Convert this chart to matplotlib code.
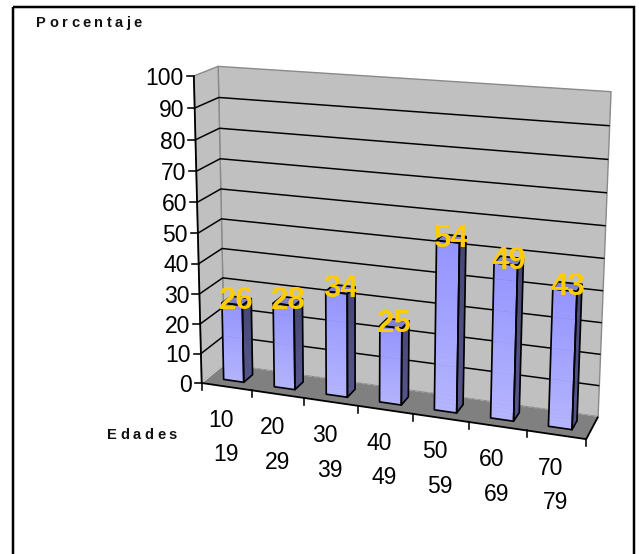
import numpy as np
import matplotlib
matplotlib.use("Agg")
import matplotlib.pyplot as plt
from matplotlib.patches import Polygon, Rectangle

# ---- data -------------------------------------------------------------
age_from = ["10", "20", "30", "40", "50", "60", "70"]
age_to = ["19", "29", "39", "49", "59", "69", "79"]
porcentaje = [26, 28, 34, 25, 54, 49, 43]
value_ticks = [0, 10, 20, 30, 40, 50, 60, 70, 80, 90, 100]
y_title = "Porcentaje"
x_title = "Edades"

# ---- canvas (pixel coordinates, y downward) ----------------------------
W, H = 639, 554
fig = plt.figure(figsize=(W / 100, H / 100), dpi=100)
ax = fig.add_axes([0, 0, 1, 1])
ax.set_xlim(0, W)
ax.set_ylim(H, 0)
ax.axis("off")

PX = 0.72  # points per pixel at 100 dpi
FONT = "Liberation Sans"

# ---- perspective camera fitted to the plot box ---------------------------
# scene coords: (category position 0..7, value 0..100, depth 0=front..1=back)
box_points = np.array([
    (0, 0, 0), (0, 100, 0), (0, 0, 1), (0, 100, 1),
    (7, 0, 0), (7, 0, 1), (7, 100, 1),
    (1, 0, 0), (2, 0, 0), (3, 0, 0), (4, 0, 0), (5, 0, 0), (6, 0, 0),
], dtype=float)
box_pixels = np.array([
    (203, 383), (193, 75), (223, 364), (219, 67),
    (586, 439), (599, 416), (611, 92),
    (253, 391), (305, 398), (357, 405.5), (412, 414), (468, 422), (527, 431),
], dtype=float)


def fit_camera(p3, p2):
    rows = []
    for (X, V, Z), (u, v) in zip(p3, p2):
        Y = V / 10.0
        u, v = u / 100.0, v / 100.0
        rows.append([X, Y, Z, 1, 0, 0, 0, 0, -u * X, -u * Y, -u * Z, -u])
        rows.append([0, 0, 0, 0, X, Y, Z, 1, -v * X, -v * Y, -v * Z, -v])
    _, _, vt = np.linalg.svd(np.array(rows))
    return vt[-1].reshape(3, 4)


CAM = fit_camera(box_points, box_pixels)
_, _, _vt = np.linalg.svd(CAM)
EYE = _vt[-1][:3] / _vt[-1][3]  # camera centre in (X, V/10, Z)


def proj(X, V, Z):
    p = CAM @ np.array([X, V / 10.0, Z, 1.0])
    return p[0] / p[2] * 100.0, p[1] / p[2] * 100.0


def poly(pts):
    return [proj(*p) for p in pts]


def fill(pts, color, ec="none", lw=0.0, z=1):
    ax.add_patch(Polygon(poly(pts), closed=True, facecolor=color,
                         edgecolor=ec, linewidth=lw, zorder=z,
                         joinstyle="round"))


def line3(pts, color, lw, z=2, **kw):
    xy = np.array(poly(pts))
    ax.plot(xy[:, 0], xy[:, 1], color=color, linewidth=lw, zorder=z,
            solid_capstyle="butt", **kw)


NCAT = len(porcentaje)
VMAX = value_ticks[-1]

# ---- walls and floor ---------------------------------------------------
wall_grey = "#C0C0C0"
edge_grey = "#8A8A8A"
fill([(0, 0, 1), (NCAT, 0, 1), (NCAT, VMAX, 1), (0, VMAX, 1)], wall_grey,
     ec=edge_grey, lw=1.4 * PX, z=1)
fill([(0, 0, 0), (0, 0, 1), (0, VMAX, 1), (0, VMAX, 0)], wall_grey,
     ec=edge_grey, lw=1.4 * PX, z=1)
fill([(0, 0, 0), (NCAT, 0, 0), (NCAT, 0, 1), (0, 0, 1)], "#808080", z=1.5)
line3([(0, 0, 0), (0, 0, 1)], "#D8D8D8", 1.0 * PX, z=1.6)
line3([(0, 0, 1), (NCAT, 0, 1)], "#A6A6A6", 1.0 * PX, z=1.6,
      linestyle=(0, (4, 2)))

# gridlines on the left and back walls
for v in value_ticks[1:-1]:
    line3([(0, v, 0), (0, v, 1), (NCAT, v, 1)], "black", 1.5 * PX, z=2)

# value axis with ticks and labels
line3([(0, 0, 0), (0, VMAX, 0)], "black", 1.8 * PX, z=3)
for v in value_ticks:
    u, w = proj(0, v, 0)
    ax.plot([u - 7, u], [w, w], color="black", linewidth=1.6 * PX, zorder=3)
    ax.text(u - 10, w + 8.7, str(v), ha="right", va="baseline",
            fontsize=16.5, family=FONT, color="black", zorder=3)

# category axis along the front edge of the floor
line3([(0, 0, 0), (NCAT, 0, 0), (NCAT, 0, 1)], "black", 1.8 * PX, z=3)
for k in range(NCAT + 1):
    u, w = proj(k, 0, 0)
    ax.plot([u, u], [w, w + 7], color="black", linewidth=1.6 * PX, zorder=3)
for i in range(NCAT):
    u, w = proj(i + 0.5, 0, 0)
    ax.text(u - 5.5, w + 32 + 8.2, age_from[i], ha="center", va="baseline",
            fontsize=16.5, family=FONT, color="black", zorder=3)
    ax.text(u - 1.0, w + 66.5 + 8.2, age_to[i], ha="center", va="baseline",
            fontsize=16.5, family=FONT, color="black", zorder=3)

# ---- 3-D columns -------------------------------------------------------
front_top = np.array([0.58, 0.58, 1.00])
front_bottom = np.array([0.71, 0.71, 1.00])
side_top = np.array([0.27, 0.27, 0.45])
side_bottom = np.array([0.33, 0.33, 0.55])
top_col = "#8080D0"
NSTRIP = 40

for i, val in enumerate(porcentaje):
    x0, x1, z0, z1 = i + 0.3, i + 0.7, 0.3, 0.7
    faces = {
        "front": ([(x0, 0, z0), (x1, 0, z0), (x1, val, z0), (x0, val, z0)],
                  (0, 0, -1), (x0, 0, z0)),
        "back": ([(x0, 0, z1), (x1, 0, z1), (x1, val, z1), (x0, val, z1)],
                 (0, 0, 1), (x0, 0, z1)),
        "left": ([(x0, 0, z0), (x0, 0, z1), (x0, val, z1), (x0, val, z0)],
                 (-1, 0, 0), (x0, 0, z0)),
        "right": ([(x1, 0, z0), (x1, 0, z1), (x1, val, z1), (x1, val, z0)],
                  (1, 0, 0), (x1, 0, z0)),
        "top": ([(x0, val, z0), (x1, val, z0), (x1, val, z1), (x0, val, z1)],
                (0, 1, 0), (x0, val, z0)),
    }
    zb = 5 + i * 0.01
    for name, (pts, normal, anchor) in faces.items():
        a = np.array([anchor[0], anchor[1] / 10.0, anchor[2]])
        if np.dot(EYE - a, normal) <= 0:
            continue
        if name in ("front", "back", "left", "right"):
            c_top = front_top if name in ("front", "back") else side_top
            c_bot = front_bottom if name in ("front", "back") else side_bottom
            (pa, pb) = (pts[0], pts[1])
            for s in range(NSTRIP):
                v0 = val * s / NSTRIP
                v1 = val * (s + 1) / NSTRIP
                t = (s + 0.5) / NSTRIP
                col = c_bot * (1 - t) + c_top * t
                strip = [(pa[0], v0, pa[2]), (pb[0], v0, pb[2]),
                         (pb[0], v1, pb[2]), (pa[0], v1, pa[2])]
                fill(strip, tuple(col), ec=tuple(col), lw=0.4, z=zb)
        else:
            fill(pts, top_col, z=zb)
        fill(pts, "none", ec="black", lw=1.7 * PX, z=zb + 0.005)

# value labels above each column
for i, val in enumerate(porcentaje):
    u, w = proj(i + 0.5, val, 0.5)
    ax.text(u, w - 3 + 11.3, str(val), ha="center", va="baseline",
            fontsize=22.5, fontweight="bold", family=FONT,
            color="#FFCC00", zorder=10)


# ---- axis titles with wide letter spacing ----------------------------------
def tracked_text(x_left, x_right, baseline, s, **kw):
    r = fig.canvas.get_renderer()
    arts, widths = [], []
    for ch in s:
        t = ax.text(0, baseline, ch, ha="left", va="baseline", **kw)
        arts.append(t)
        widths.append(t.get_window_extent(r).width)
    gap = ((x_right - x_left) - sum(widths)) / (len(s) - 1)
    x = x_left
    for t, wdt in zip(arts, widths):
        t.set_x(x)
        x += wdt + gap


tracked_text(36, 142, 27, y_title, fontsize=10.5, fontweight="bold",
             family=FONT, color="#111111")
tracked_text(107, 177, 439, x_title, fontsize=10.5, fontweight="bold",
             family=FONT, color="#111111")

# outer frame
ax.add_patch(Rectangle((13, 7), 621, 560, facecolor="none",
                       edgecolor="black", linewidth=2.5 * PX, zorder=20))

fig.savefig("out.png", dpi=100)
